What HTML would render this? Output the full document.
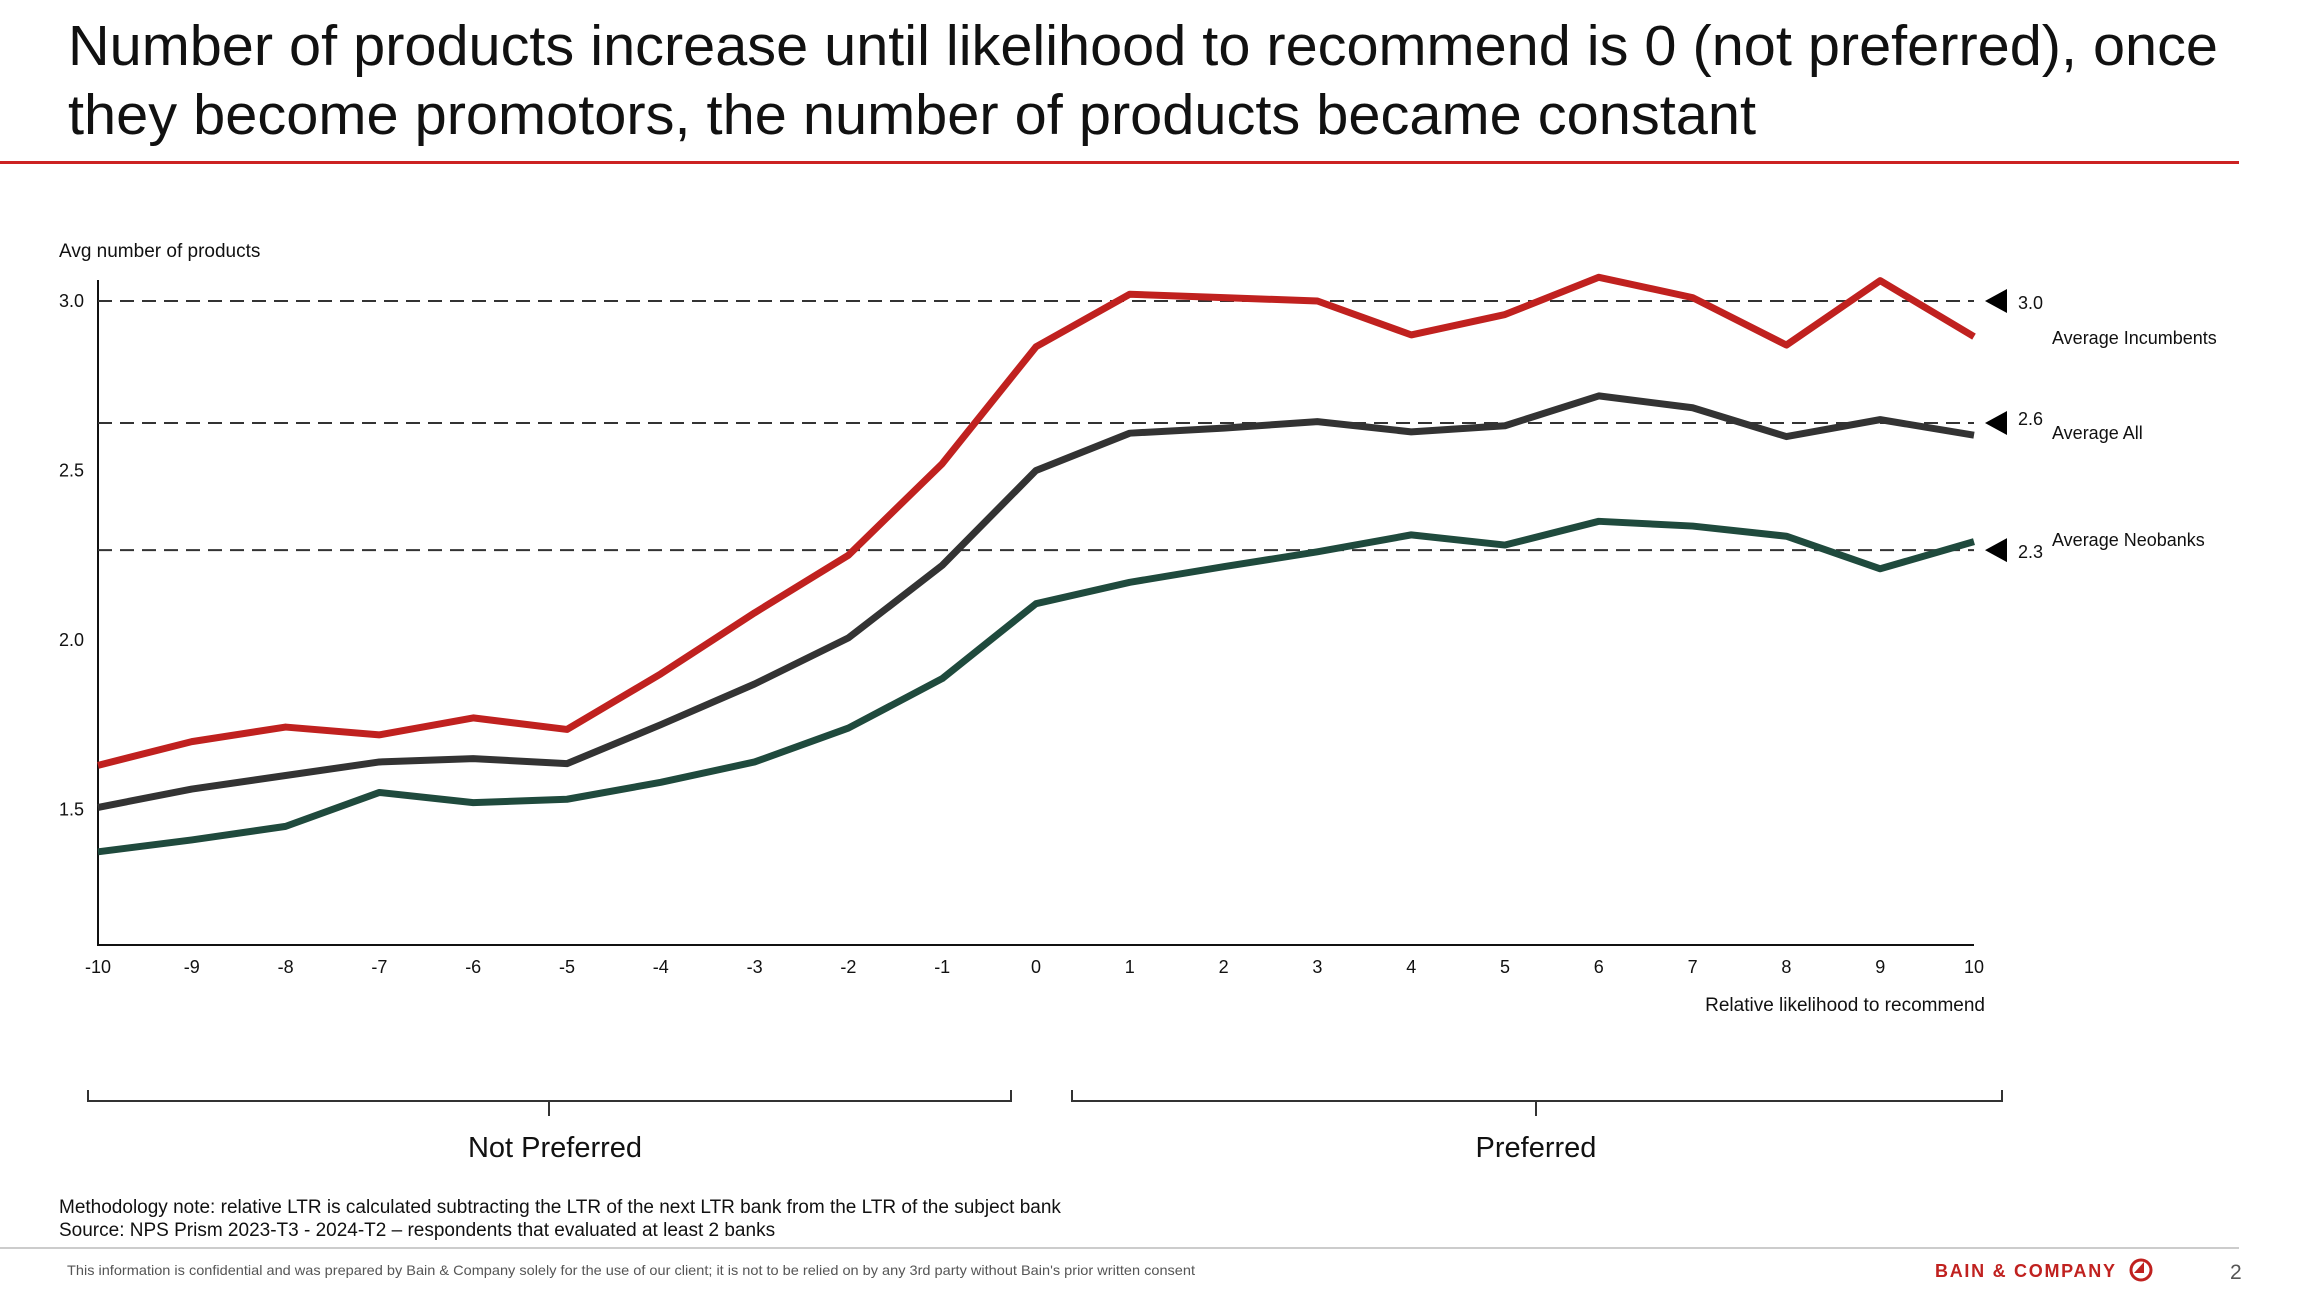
<!DOCTYPE html>
<html><head><meta charset="utf-8"><style>
html,body{margin:0;padding:0;background:#fff;}
svg{display:block;font-family:"Liberation Sans",Arial,sans-serif;}
</style></head><body>
<svg id="chart" width="2300" height="1296" viewBox="0 0 2300 1296" xmlns="http://www.w3.org/2000/svg">
<text x="68" y="65" font-size="57" fill="#111" textLength="2150" lengthAdjust="spacingAndGlyphs">Number of products increase until likelihood to recommend is 0 (not preferred), once</text>
<text x="68" y="134" font-size="57" fill="#111" textLength="1688" lengthAdjust="spacingAndGlyphs">they become promotors, the number of products became constant</text>
<rect x="0" y="161" width="2239" height="3" fill="#cc2222"/>
<text x="59" y="257" font-size="19" fill="#111">Avg number of products</text>
<g id="plot"></g>
<text x="1985" y="1011" font-size="19" fill="#111" text-anchor="end">Relative likelihood to recommend</text>
<path d="M88 1090 V1101 H1011 V1090 M549 1101 V1116" stroke="#333" stroke-width="2" fill="none"/>
<path d="M1072 1090 V1101 H2002 V1090 M1536 1101 V1116" stroke="#333" stroke-width="2" fill="none"/>
<text x="555" y="1157" font-size="29" fill="#111" text-anchor="middle">Not Preferred</text>
<text x="1536" y="1157" font-size="29" fill="#111" text-anchor="middle">Preferred</text>
<text x="59" y="1213" font-size="19" fill="#111">Methodology note: relative LTR is calculated subtracting the LTR of the next LTR bank from the LTR of the subject bank</text>
<text x="59" y="1236" font-size="19" fill="#111">Source: NPS Prism 2023-T3 - 2024-T2 – respondents that evaluated at least 2 banks</text>
<rect x="0" y="1247" width="2239" height="2" fill="#ccc"/>
<text x="67" y="1275" font-size="14" fill="#555" textLength="1128" lengthAdjust="spacingAndGlyphs">This information is confidential and was prepared by Bain &amp; Company solely for the use of our client; it is not to be relied on by any 3rd party without Bain's prior written consent</text>
<text x="1935" y="1277" font-size="18" font-weight="bold" fill="#c0211f" textLength="180" lengthAdjust="spacing">BAIN &amp; COMPANY</text>
<circle cx="2141" cy="1270" r="10" stroke="#c0211f" stroke-width="3" fill="none"/>
<path d="M2144 1262 L2144 1273 L2134 1273 Z" fill="#c0211f"/>
<text x="2230" y="1279" font-size="21" fill="#555">2</text>
</svg>
<script>
const categories = [-10,-9,-8,-7,-6,-5,-4,-3,-2,-1,0,1,2,3,4,5,6,7,8,9,10];
const incumbents = [1.63,1.70,1.743,1.72,1.77,1.736,1.90,2.08,2.25,2.52,2.865,3.02,3.01,3.0,2.90,2.96,3.07,3.01,2.87,3.06,2.895];
const allBanks = [1.506,1.56,1.60,1.64,1.65,1.635,1.75,1.87,2.006,2.22,2.50,2.61,2.625,2.644,2.614,2.632,2.72,2.685,2.60,2.65,2.604];
const neobanks = [1.375,1.41,1.45,1.55,1.52,1.53,1.58,1.64,1.74,1.886,2.107,2.17,2.216,2.26,2.31,2.28,2.35,2.336,2.306,2.21,2.29];
const yTicks = [1.5,2.0,2.5,3.0];
const averages = [3.0,2.64,2.265];
const averageValueLabels = ["3.0","2.6","2.3"];
const averageNames = ["Average Incumbents","Average All","Average Neobanks"];

const NS="http://www.w3.org/2000/svg";
const X0=98, X1=1974, YTOP=301, YMIN=1.1, YMAX=3.0, YBOT=945;
const xs=v=>X0+(v-categories[0])/(categories[categories.length-1]-categories[0])*(X1-X0);
const ys=v=>YBOT-(v-YMIN)/(YMAX-YMIN)*(YBOT-YTOP);
const g=document.getElementById('plot');
function mk(tag,attrs){const e=document.createElementNS(NS,tag);for(const k in attrs)e.setAttribute(k,attrs[k]);g.appendChild(e);return e;}

const ax=mk('path',{d:`M${X0} 280 V${YBOT} H${X1}`,stroke:'#111','stroke-width':2,fill:'none'});



yTicks.forEach(t=>{
  const e=mk('text',{x:59,y:ys(t)+6,'font-size':18,fill:'#111'});
  e.textContent=t.toFixed(1);
  
  
});
categories.forEach(c=>{
  const e=mk('text',{x:xs(c),y:YBOT+28,'font-size':18,fill:'#111','text-anchor':'middle'});
  e.textContent=String(c);
  
  
});
averages.forEach((a,i)=>{
  const y=ys(a);
  const l=mk('line',{x1:X0,x2:X1,y1:y,y2:y,stroke:'#333','stroke-width':2,'stroke-dasharray':'14 8'});
  
  
  const tri=mk('path',{d:`M2007 ${y-12} V${y+12} L1985 ${y} Z`,fill:'#000'});
  
  
  const v=mk('text',{x:2018,y:y+[8,2,8][i],'font-size':18,fill:'#111'});
  v.textContent=averageValueLabels[i];
  
  
  const n=mk('text',{x:2052,y:y+[43,16,-4][i],'font-size':18,fill:'#111'});
  n.textContent=averageNames[i];
  
  
});
[[neobanks,'#1f4a3d','neobanks-line'],[allBanks,'#333333','all-banks-line'],[incumbents,'#c0211f','incumbents-line']].forEach(([s,c,n])=>{
  const p=mk('polyline',{points:s.map((v,i)=>xs(categories[i])+','+ys(v)).join(' '),stroke:c,'stroke-width':7,fill:'none','stroke-linejoin':'round'});
  
  
});
</script>
</body></html>
